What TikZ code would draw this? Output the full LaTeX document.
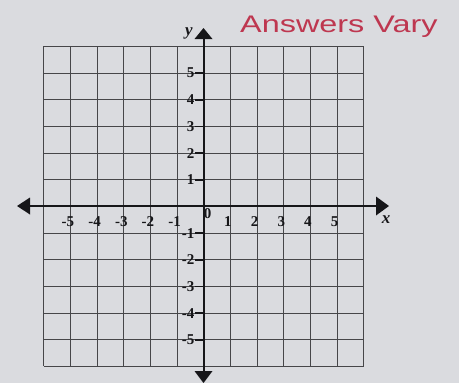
\documentclass[tikz,border=0pt]{standalone}
\usepackage{fontspec}
\setmainfont{Liberation Serif}
\newfontfamily\handfont{Liberation Sans}
\usetikzlibrary{arrows.meta}
\definecolor{paper}{RGB}{218,219,223}
\definecolor{gridc}{RGB}{70,70,73}
\definecolor{axisc}{RGB}{22,22,25}
\definecolor{inkred}{RGB}{190,55,80}
\tikzset{
  gridline/.style={draw=gridc, line width=1pt},
  axisline/.style={draw=axisc, line width=2pt},
  ticklab/.style={font=\bfseries\fontsize{15}{15}\selectfont, text=axisc, inner sep=0pt},
  axislab/.style={font=\bfseries\itshape\fontsize{17}{17}\selectfont, text=axisc, inner sep=0pt},
  ytick/.style={draw=axisc, line width=1.4pt},
  tipx/.style={fill=axisc, draw=none},
}
\begin{document}
\begin{tikzpicture}[x=1pt,y=-1pt]
\fill[paper] (0,0) rectangle (459,383);
\useasboundingbox (0,0) rectangle (459,383);
% grid (lines snapped to pixel centres)
\foreach \p in {43.5,70.5,97.5,123.5,150.5,177.5,203.5,230.5,257.5,283.5,310.5,337.5,363.5}{
  \draw[gridline] (\p,46) -- (\p,366);
}
\foreach \p in {46.5,73.5,99.5,126.5,153.5,179.5,206.5,233.5,259.5,286.5,313.5,339.5,366.5}{
  \draw[gridline] (43.5,\p) -- (363.5,\p);
}
% axes
\coordinate (xl) at (17,206);
\coordinate (xr) at (389,206);
\coordinate (yt) at (203.5,28);
\coordinate (yb) at (203.5,383);
\coordinate (xlb) at (30,206);
\coordinate (xrb) at (376,206);
\coordinate (ytb) at (203.5,39);
\coordinate (ybb) at (203.5,371);
\draw[axisline] (xlb) -- (xrb);
\draw[axisline] (ytb) -- (ybb);
\fill[tipx] (xl) -- ([yshift=-8.5pt]xlb) -- ([yshift=8.5pt]xlb) -- cycle;
\fill[tipx] (xr) -- ([yshift=-9.5pt]xrb) -- ([yshift=9.5pt]xrb) -- cycle;
\fill[tipx] (yt) -- ([xshift=-9pt]ytb) -- ([xshift=9pt]ytb) -- cycle;
\fill[tipx] (yb) -- ([xshift=-9pt]ybb) -- ([xshift=9pt]ybb) -- cycle;
% y ticks and labels
\foreach \v in {1,...,5}{
  \coordinate (tp\v) at (195,{206.5-26.67*\v});
  \coordinate (tpa\v) at (203.5,{206.5-26.67*\v});
  \draw[ytick] (tp\v) -- (tpa\v);
  \node[ticklab, anchor=east] (ylp\v) at (194.5,{206.5-26.67*\v}) {\v};
  \coordinate (tn\v) at (195,{206.5+26.67*\v});
  \coordinate (tna\v) at (203.5,{206.5+26.67*\v});
  \draw[ytick] (tn\v) -- (tna\v);
  \node[ticklab, anchor=east] (yln\v) at (194.5,{206.5+26.67*\v}) {-\v};
}
% x labels
\foreach \v in {1,...,5}{
  \node[ticklab] (xlp\v) at ({201.3+26.67*\v},222) {\v};
  \node[ticklab] (xln\v) at ({201.3-26.67*\v},222) {-\v};
}
\node[ticklab] (zero) at (207.5,213.5) {0};
\node[axislab] (ylab) at (189,33) {y};
\node[axislab] (xlab) at (386,220) {x};
% handwritten note
\node[anchor=base west, inner sep=0pt, text=inkred, font=\handfont\fontsize{24}{24}\selectfont] (note) at (240,32) {\scalebox{1.35}[1]{Answers Vary}};
\end{tikzpicture}
\end{document}
